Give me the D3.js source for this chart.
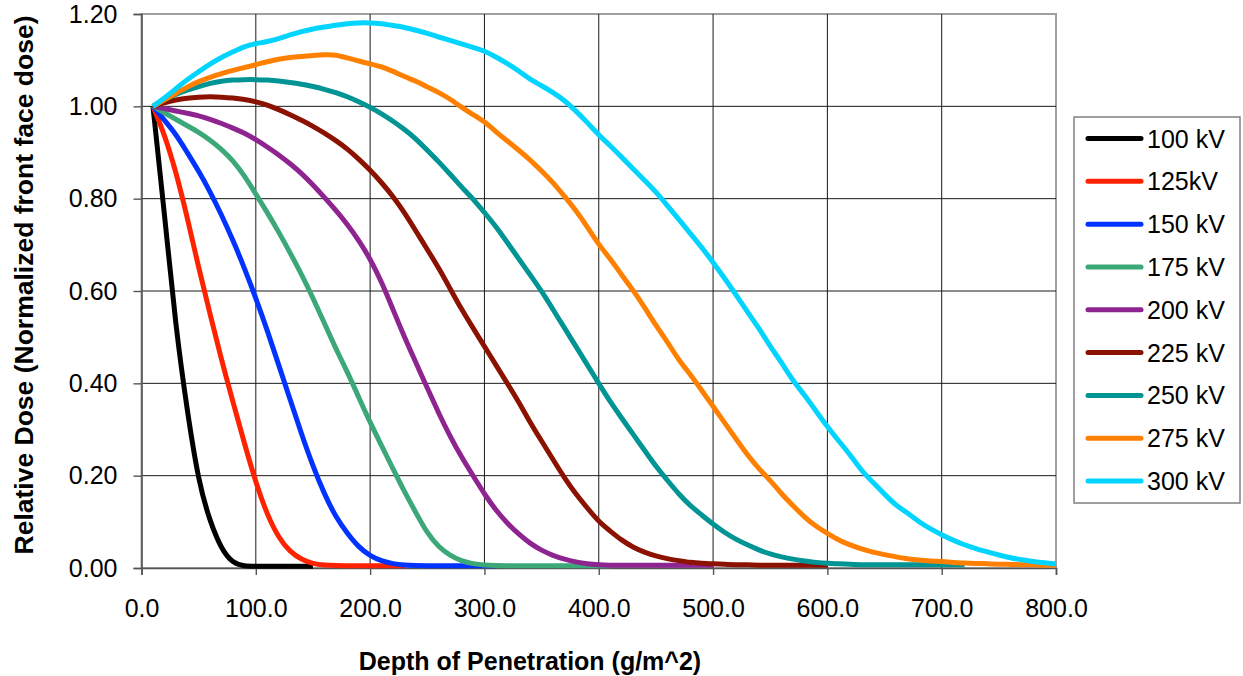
<!DOCTYPE html>
<html>
<head>
<meta charset="utf-8">
<script src="https://cdn.jsdelivr.net/npm/d3@7"></script>
<style>
  body { margin: 0; background: #fff; }
  svg { display: block; font-family: "Liberation Sans", Arial, sans-serif; }
</style>
</head>
<body>
<svg id="chart" width="1243" height="676"></svg>
<script>
// depth of penetration, g/m^2
const depth = [10,20,30,40,50,60,70,80,90,100,110,120,130,140,150,160,170,180,190,200,
  210,220,230,240,250,260,270,280,290,300,310,320,330,340,350,360,370,380,390,400,
  410,420,430,440,450,460,470,480,490,500,510,520,530,540,550,560,570,580,590,600,
  610,620,630,640,650,660,670,680,690,700,710,720,730,740,750,760,770,780,790,800];

const kv100 = [1.00,0.77,0.52,0.34,0.185,0.10,0.04,0.01,0.004,0.004,0.004,0.004,0.004,0.004,0.004];
const kv125 = [1.00,0.94,0.86,0.76,0.65,0.55,0.45,0.36,0.27,0.185,0.115,0.065,0.035,0.018,0.009,
  0.006,0.005,0.005,0.005,0.005,0.005,0.005,0.005];
const kv150 = [1.00,0.97,0.94,0.90,0.86,0.815,0.765,0.71,0.65,0.585,0.515,0.44,0.365,0.29,0.22,
  0.16,0.11,0.075,0.045,0.026,0.015,0.009,0.006,0.005,0.005,0.005,0.005,0.005,0.005,0.005,0.005];
const kv175 = [1.00,0.986,0.972,0.958,0.944,0.927,0.907,0.883,0.85,0.81,0.77,0.728,0.683,0.636,0.585,
  0.53,0.475,0.425,0.37,0.315,0.265,0.215,0.165,0.12,0.075,0.045,0.027,0.015,0.009,0.006,
  0.005,0.005,0.005,0.005,0.005,0.005,0.005,0.005,0.005,0.005,0.005];
const kv200 = [1.00,0.995,0.99,0.985,0.98,0.972,0.963,0.953,0.942,0.928,0.912,0.895,0.876,0.855,0.83,
  0.803,0.775,0.745,0.71,0.67,0.62,0.56,0.50,0.445,0.39,0.335,0.285,0.24,0.20,0.16,
  0.125,0.097,0.073,0.053,0.038,0.027,0.019,0.013,0.009,0.007,0.006,0.006,0.006,0.006,0.006,
  0.006,0.006,0.006,0.006,0.006];
const kv225 = [1.00,1.008,1.014,1.018,1.02,1.021,1.02,1.018,1.015,1.01,1.003,0.993,0.982,0.97,0.957,
  0.942,0.926,0.908,0.886,0.862,0.835,0.805,0.77,0.73,0.69,0.65,0.605,0.56,0.52,0.48,
  0.44,0.40,0.36,0.315,0.275,0.235,0.195,0.16,0.13,0.10,0.08,0.06,0.045,0.034,0.026,
  0.02,0.016,0.012,0.01,0.009,0.008,0.007,0.007,0.006,0.006,0.006,0.006,0.006,0.006,0.006];
const kv250 = [1.00,1.015,1.026,1.035,1.043,1.05,1.055,1.057,1.058,1.058,1.057,1.055,1.052,1.048,1.043,
  1.037,1.03,1.021,1.01,0.998,0.984,0.968,0.95,0.93,0.905,0.88,0.853,0.825,0.80,0.77,
  0.74,0.705,0.67,0.635,0.60,0.56,0.52,0.48,0.44,0.40,0.36,0.325,0.29,0.255,0.22,
  0.19,0.16,0.135,0.115,0.095,0.077,0.062,0.05,0.039,0.03,0.024,0.019,0.015,0.012,0.01,
  0.009,0.008,0.007,0.007,0.007,0.007,0.007,0.007,0.007,0.007,0.007,0.007];
const kv275 = [1.00,1.014,1.028,1.042,1.054,1.063,1.071,1.078,1.084,1.09,1.097,1.102,1.106,1.108,1.11,
  1.112,1.112,1.105,1.098,1.092,1.086,1.076,1.064,1.055,1.042,1.03,1.016,0.998,0.982,0.967,
  0.945,0.925,0.905,0.884,0.86,0.835,0.805,0.775,0.739,0.70,0.67,0.635,0.602,0.565,0.525,
  0.49,0.45,0.42,0.385,0.35,0.315,0.28,0.245,0.215,0.19,0.16,0.135,0.11,0.09,0.075,
  0.06,0.05,0.041,0.034,0.029,0.024,0.02,0.017,0.015,0.014,0.012,0.011,0.01,0.009,0.008,
  0.008,0.007,0.007,0.006,0.006];
const kv300 = [1.00,1.018,1.038,1.058,1.075,1.092,1.106,1.118,1.13,1.136,1.14,1.146,1.155,1.162,1.168,
  1.172,1.176,1.179,1.181,1.181,1.179,1.175,1.171,1.165,1.158,1.15,1.143,1.135,1.128,1.12,
  1.107,1.093,1.077,1.058,1.045,1.03,1.013,0.99,0.965,0.938,0.915,0.89,0.865,0.84,0.815,
  0.785,0.755,0.725,0.695,0.662,0.628,0.592,0.555,0.52,0.48,0.445,0.405,0.375,0.34,0.306,
  0.275,0.245,0.21,0.185,0.16,0.135,0.12,0.10,0.085,0.072,0.06,0.05,0.042,0.035,0.028,
  0.022,0.018,0.014,0.011,0.009];

const seriesNames = ["100 kV","125kV","150 kV","175 kV","200 kV","225 kV","250 kV","275 kV","300 kV"];
const seriesValues = [kv100,kv125,kv150,kv175,kv200,kv225,kv250,kv275,kv300];
const seriesColors = ["#000000","#ff2200","#0033ff","#3ca878","#8e2490","#8b1200","#009494","#ff8000","#00d4ff"];

const xTicks = [0,100,200,300,400,500,600,700,800];
const yTicks = [0,0.2,0.4,0.6,0.8,1.0,1.2];

const svg = d3.select("#chart");
const fontSize = 25;

var x = d3.scaleLinear().domain([0,800]).range([141.5,1056]);
var y = d3.scaleLinear().domain([0,1.2]).range([568,14]);

// plot frame (top/right are light grey)
svg.append("rect")
  .attr("x",x(0)).attr("y",y(1.2))
  .attr("width",x(800)-x(0)).attr("height",y(0)-y(1.2))
  .attr("fill","none").attr("stroke","#a0a0a0").attr("stroke-width",2);

// grid
svg.append("g").selectAll("line")
  .data(xTicks.slice(1,-1))
  .join("line")
    .attr("x1",d=>x(d)).attr("x2",d=>x(d))
    .attr("y1",y(1.2)).attr("y2",y(0))
    .attr("stroke","#1a1a1a").attr("stroke-width",1);
svg.append("g").selectAll("line")
  .data(yTicks.slice(1,-1))
  .join("line")
    .attr("x1",x(0)).attr("x2",x(800))
    .attr("y1",d=>y(d)).attr("y2",d=>y(d))
    .attr("stroke","#1a1a1a").attr("stroke-width",1);

// axes
const yAxis = svg.append("g")
  .attr("transform",`translate(${x(0)},0)`)
  .call(d3.axisLeft(y).tickValues(yTicks).tickFormat(d3.format(".2f")).tickSize(8).tickPadding(16));
const xAxis = svg.append("g")
  .attr("transform",`translate(0,${y(0)})`)
  .call(d3.axisBottom(x).tickValues(xTicks).tickFormat(d3.format(".1f")).tickSize(7).tickPadding(24));
[xAxis,yAxis].forEach(a=>{
  a.select(".domain").attr("stroke","#555").attr("stroke-width",1.6);
  a.selectAll(".tick line").attr("stroke","#555").attr("stroke-width",1.4);
  a.selectAll(".tick text")
    .attr("font-size",fontSize).attr("fill","#000")
    .attr("font-family","Liberation Sans, Arial, sans-serif");
});

// curves (smoothed like the spreadsheet lines)
const line = d3.line()
  .x(d=>x(d[0])).y(d=>y(d[1]))
  .curve(d3.curveBasis);

svg.append("g").selectAll("path")
  .data(seriesValues)
  .join("path")
    .attr("d",vals=>line(vals.map((v,i)=>[depth[i],v])))
    .attr("fill","none")
    .attr("stroke",(d,i)=>seriesColors[i])
    .attr("stroke-width",5)
    .attr("stroke-linejoin","round");

// axis titles
svg.append("text")
  .attr("x",530).attr("y",670)
  .attr("text-anchor","middle")
  .attr("font-size",fontSize).attr("font-weight","bold")
  .text("Depth of Penetration (g/m^2)");
svg.append("text")
  .attr("transform","translate(33,285) rotate(-90)")
  .attr("text-anchor","middle")
  .attr("font-size",26.5).attr("font-weight","bold")
  .text("Relative Dose (Normalized front face dose)");

// legend
const legend = svg.append("g");
legend.append("rect")
  .attr("x",1074).attr("y",117).attr("width",166).attr("height",386)
  .attr("fill","#fff").attr("stroke","#808080").attr("stroke-width",1.5);
const rowY = d3.scalePoint().domain(seriesNames).range([138.5,481]);
const items = legend.selectAll("g.item")
  .data(seriesNames)
  .join("g").attr("class","item")
  .attr("transform",d=>`translate(0,${rowY(d)})`);
items.append("line")
  .attr("x1",1088).attr("x2",1141)
  .attr("stroke",(d,i)=>seriesColors[i])
  .attr("stroke-width",5).attr("stroke-linecap","round");
items.append("text")
  .attr("x",1147).attr("y",9)
  .attr("font-size",fontSize)
  .text(d=>d);
</script>
</body>
</html>
